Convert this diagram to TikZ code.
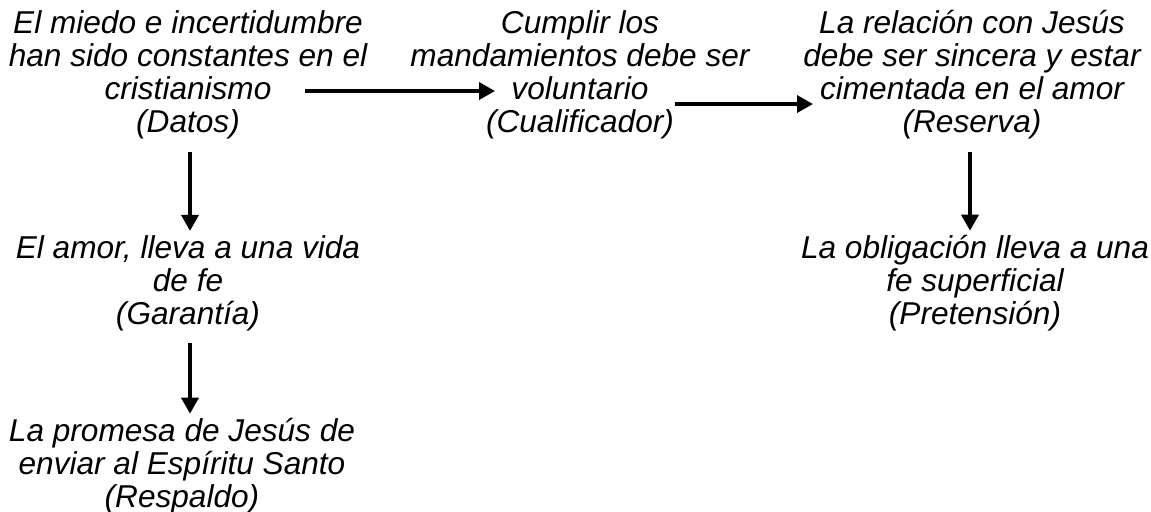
\documentclass[tikz,border=0pt]{standalone}
\usepackage{fontspec}
\setmainfont{Liberation Sans}
\usepackage{tikz}
\usetikzlibrary{calc,positioning,arrows.meta}
\begin{document}
\begin{tikzpicture}[x=0.5pt,y=-0.5pt,txt/.style={align=center,inner sep=1pt,font=\itshape\fontsize{15.8}{16.5}\selectfont},arr/.style={-{Triangle[length=8pt,width=8.5pt]},line width=1.8pt}]
  \useasboundingbox (0,0) rectangle (1151,511);
  \node[txt] (datos) at (188,75) {El miedo e incertidumbre\\han sido constantes en el\\cristianismo\\(Datos)};
  \node[txt] (cualif) at (580,75) {Cumplir los\\mandamientos debe ser\\voluntario\\(Cualificador)};
  \node[txt] (reserva) at (972,75) {La relación con Jesús\\debe ser sincera y estar\\cimentada en el amor\\(Reserva)};
  \node[txt] (garantia) at (188,283) {El amor, lleva a una vida\\de fe\\(Garantía)};
  \node[txt] (pretension) at (975,283) {La obligación lleva a una\\fe superficial\\(Pretensión)};
  \node[txt] (respaldo) at (182,466) {La promesa de Jesús de\\enviar al Espíritu Santo\\(Respaldo)};

  \draw[arr] ($(datos.center)+(117,16)$) -- ($(cualif.center)+(-85,16)$);
  \draw[arr] ($(cualif.center)+(95,29)$) -- ($(reserva.center)+(-159,29)$);
  \draw[arr] ([xshift=1pt,yshift=-5pt]datos.south) -- ([xshift=1pt,yshift=1pt]datos.south |- garantia.north);
  \draw[arr] ([xshift=-1pt,yshift=-5pt]reserva.south) -- ([xshift=-1pt,yshift=1pt]reserva.south |- pretension.north);
  \draw[arr] ([xshift=1pt,yshift=-5pt]garantia.south) -- ([xshift=1pt,yshift=1pt]garantia.south |- respaldo.north);
\end{tikzpicture}
\end{document}
